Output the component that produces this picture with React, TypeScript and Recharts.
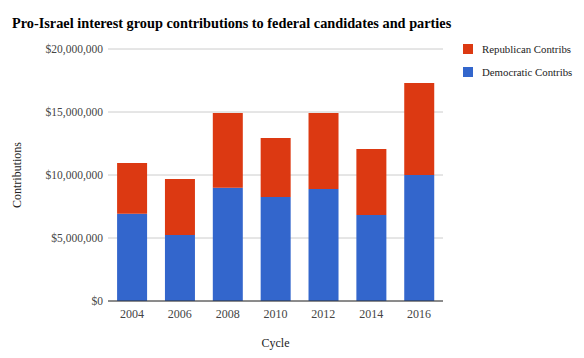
import React from "react";
import {
  BarChart,
  Bar,
  XAxis,
  YAxis,
  CartesianGrid,
} from "recharts";

// election cycles
const cycles = ["2004", "2006", "2008", "2010", "2012", "2014", "2016"];
// democratic contributions (bottom of stack)
const democratic = [6930000, 5240000, 8990000, 8250000, 8890000, 6830000, 10000000];
// republican contributions (top of stack)
const republican = [4020000, 4440000, 5930000, 4690000, 6030000, 5230000, 7300000];
const yTicks = [0, 5000000, 10000000, 15000000, 20000000];

const data = cycles.map((c, i) => ({
  cycle: c,
  dem: democratic[i],
  rep: republican[i],
}));

const serif = '"Liberation Serif", "Times New Roman", serif';
const BLUE = "#3366cc";
const RED = "#dc3912";

const money = (v: number) => "$" + v.toLocaleString("en-US");

export default function App() {
  return (
    <div style={{ position: "relative", width: 584, height: 358, fontFamily: serif, background: "#fff" }}>
      <style>{`body{margin:0} svg text{font-family:"Liberation Serif","Times New Roman",serif}`}</style>
      <BarChart
        width={584}
        height={358}
        data={data}
        margin={{ top: 49, right: 141, left: 0, bottom: 0 }}
        barCategoryGap="19%"
      >
        <CartesianGrid vertical={false} stroke="#cccccc" />
        <XAxis
          dataKey="cycle"
          axisLine={{ stroke: "#333" }}
          tickLine={false}
          tick={{ fill: "#444", fontSize: 12 }}
          label={{
            value: "Cycle",
            position: "insideBottom",
            offset: 11,
            fill: "#222",
            fontSize: 12,
          }}
          height={57}
        />
        <YAxis
          width={108}
          domain={[0, 20000000]}
          ticks={yTicks}
          tickFormatter={money}
          axisLine={false}
          tickLine={false}
          tickSize={5}
          tickMargin={0}
          tick={{ fill: "#444", fontSize: 11.5 }}
          label={{
            value: "Contributions",
            angle: -90,
            position: "insideLeft",
            offset: 17,
            fill: "#222",
            fontSize: 12,
            style: { textAnchor: "middle" },
          }}
        />
        <Bar dataKey="dem" stackId="a" fill={BLUE} isAnimationActive={false} />
        <Bar dataKey="rep" stackId="a" fill={RED} isAnimationActive={false} />
      </BarChart>

      {/* title */}
      <div
        style={{
          position: "absolute",
          left: 12,
          top: 14,
          fontSize: 14.3,
          fontWeight: "bold",
          color: "#000",
          whiteSpace: "nowrap",
          lineHeight: "18px",
        }}
      >
        Pro-Israel interest group contributions to federal candidates and parties
      </div>

      {/* legend */}
      {[
        { name: "Republican Contribs", color: RED, top: 44 },
        { name: "Democratic Contribs", color: BLUE, top: 67 },
      ].map((l) => (
        <div
          key={l.name}
          style={{
            position: "absolute",
            left: 463,
            top: l.top,
            display: "flex",
            alignItems: "center",
            height: 10,
            fontSize: 10.8,
            color: "#222",
            whiteSpace: "nowrap",
          }}
        >
          <span style={{ width: 10, height: 10, background: l.color, marginRight: 9 }} />
          {l.name}
        </div>
      ))}
    </div>
  );
}
